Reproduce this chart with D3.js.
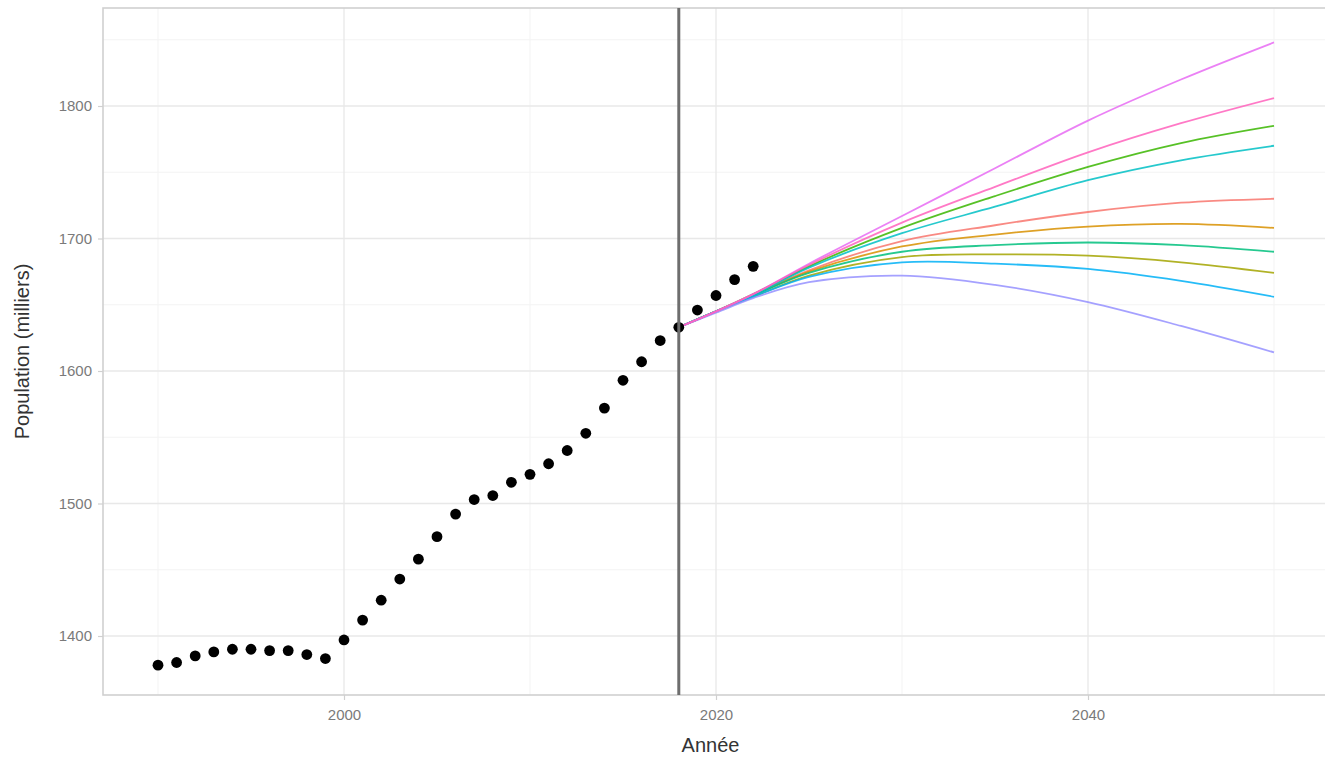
<!DOCTYPE html>
<html>
<head>
<meta charset="utf-8">
<script src="https://cdn.jsdelivr.net/npm/d3@7"></script>
<style>
  body { margin: 0; background: #fff; }
  svg { display: block; font-family: "Liberation Sans", Arial, sans-serif; }
</style>
</head>
<body>
<script>
// observed population (thousands)
var obsYears = [1990,1991,1992,1993,1994,1995,1996,1997,1998,1999,2000,2001,2002,2003,2004,2005,2006,2007,2008,2009,2010,2011,2012,2013,2014,2015,2016,2017,2018,2019,2020,2021,2022];
var obsValues = [1378,1380,1385,1388,1390,1390,1389,1389,1386,1383,1397,1412,1427,1443,1458,1475,1492,1503,1506,1516,1522,1530,1540,1553,1572,1593,1607,1623,1633,1646,1657,1669,1679];

// projection scenarios
var projYears = [2018,2020,2022,2025,2030,2035,2040,2045,2050];
var scenarioColors = ["#F8766D","#D89000","#A3A500","#39B600","#00BF7D","#00BFC4","#00B0F6","#9590FF","#E76BF3","#FF62BC"];
var scenarioValues = [
  [1633,1645,1657,1676,1698,1710,1720,1727,1730],  // red
  [1633,1645,1657,1675,1694,1703,1709,1711,1708],  // orange
  [1633,1645,1656,1672,1686,1688,1687,1682,1674],  // olive
  [1633,1645,1658,1679,1708,1732,1754,1772,1785],  // green
  [1633,1645,1657,1674,1690,1695,1697,1695,1690],  // teal
  [1633,1645,1657,1678,1704,1724,1744,1759,1770],  // cyan
  [1633,1645,1656,1671,1682,1681,1677,1668,1656],  // blue
  [1633,1644,1655,1667,1672,1665,1652,1634,1614],  // purple
  [1633,1645,1658,1681,1717,1753,1789,1820,1848],  // magenta
  [1633,1645,1658,1680,1712,1739,1765,1787,1806]   // pink
];
var xTicks = [2000,2020,2040];
var xMinor = [1990,2010,2030,2050];
var yTicks = [1400,1500,1600,1700,1800];
var yMinor = [1450,1550,1650,1750,1850];
var cutYear = 2018;

(function(){
var W = 1325, H = 757;
var pl = 103, pr = 1330, pt = 8, pb = 695;

var svg = d3.select("body").append("svg")
    .attr("width", W)
    .attr("height", H);

var x = d3.scaleLinear().domain([2000, 2040]).range([344, 1088]);
var y = d3.scaleLinear().domain([1400, 1800]).range([636, 106]);

// panel grid
var grid = svg.append("g");
grid.selectAll(".xminor").data(xMinor).enter().append("line")
    .attr("x1", function(d){ return x(d); }).attr("x2", function(d){ return x(d); })
    .attr("y1", pt).attr("y2", pb)
    .attr("stroke", "#f3f3f3").attr("stroke-width", 1);
grid.selectAll(".yminor").data(yMinor).enter().append("line")
    .attr("x1", pl).attr("x2", pr)
    .attr("y1", function(d){ return y(d); }).attr("y2", function(d){ return y(d); })
    .attr("stroke", "#f3f3f3").attr("stroke-width", 1);
grid.selectAll(".xmajor").data(xTicks).enter().append("line")
    .attr("x1", function(d){ return x(d); }).attr("x2", function(d){ return x(d); })
    .attr("y1", pt).attr("y2", pb)
    .attr("stroke", "#e8e8e8").attr("stroke-width", 1.3);
grid.selectAll(".ymajor").data(yTicks).enter().append("line")
    .attr("x1", pl).attr("x2", pr)
    .attr("y1", function(d){ return y(d); }).attr("y2", function(d){ return y(d); })
    .attr("stroke", "#e8e8e8").attr("stroke-width", 1.3);

svg.append("rect")
    .attr("x", pl).attr("y", pt)
    .attr("width", pr - pl).attr("height", pb - pt)
    .attr("fill", "none").attr("stroke", "#d0d0d0").attr("stroke-width", 1.6);

// axes
var xAxis = d3.axisBottom(x).tickValues(xTicks).tickSize(5).tickPadding(9).tickFormat(d3.format("d"));
var yAxis = d3.axisLeft(y).tickValues(yTicks).tickSize(5).tickPadding(6).tickFormat(d3.format("d"));

var gx = svg.append("g").attr("transform", "translate(0," + pb + ")").call(xAxis);
var gy = svg.append("g").attr("transform", "translate(" + pl + ",0)").call(yAxis);
[gx, gy].forEach(function(g){
    g.select(".domain").remove();
    g.selectAll(".tick line").attr("stroke", "#d0d0d0").attr("stroke-width", 1.2);
    g.selectAll(".tick text").attr("fill", "#7a7a7a").style("font-size", "15px");
});

svg.append("text")
    .attr("x", (pl + pr) / 2 - 6).attr("y", 752)
    .attr("text-anchor", "middle")
    .attr("fill", "#333").style("font-size", "20px")
    .text("Année");

svg.append("text")
    .attr("transform", "translate(29," + ((pt + pb) / 2) + ") rotate(-90)")
    .attr("text-anchor", "middle")
    .attr("fill", "#333").style("font-size", "20px")
    .text("Population (milliers)");

// projection lines
var line = d3.line()
    .x(function(d){ return x(d[0]); })
    .y(function(d){ return y(d[1]); })
    .curve(d3.curveCatmullRom.alpha(0.5));

svg.append("g").selectAll("path")
    .data(scenarioValues)
    .enter().append("path")
    .attr("d", function(vals){ return line(vals.map(function(v, i){ return [projYears[i], v]; })); })
    .attr("fill", "none")
    .attr("stroke", function(d, i){ return scenarioColors[i]; })
    .attr("stroke-opacity", 0.85)
    .attr("stroke-width", 1.8);

// observed points
svg.append("g").selectAll("circle")
    .data(obsYears)
    .enter().append("circle")
    .attr("cx", function(d){ return x(d); })
    .attr("cy", function(d, i){ return y(obsValues[i]); })
    .attr("r", 5.4)
    .attr("fill", "#000");

// reference year
svg.append("line")
    .attr("x1", x(cutYear)).attr("x2", x(cutYear))
    .attr("y1", pt).attr("y2", pb)
    .attr("stroke", "#6e6e6e").attr("stroke-width", 3);
})();
</script>
</body>
</html>
